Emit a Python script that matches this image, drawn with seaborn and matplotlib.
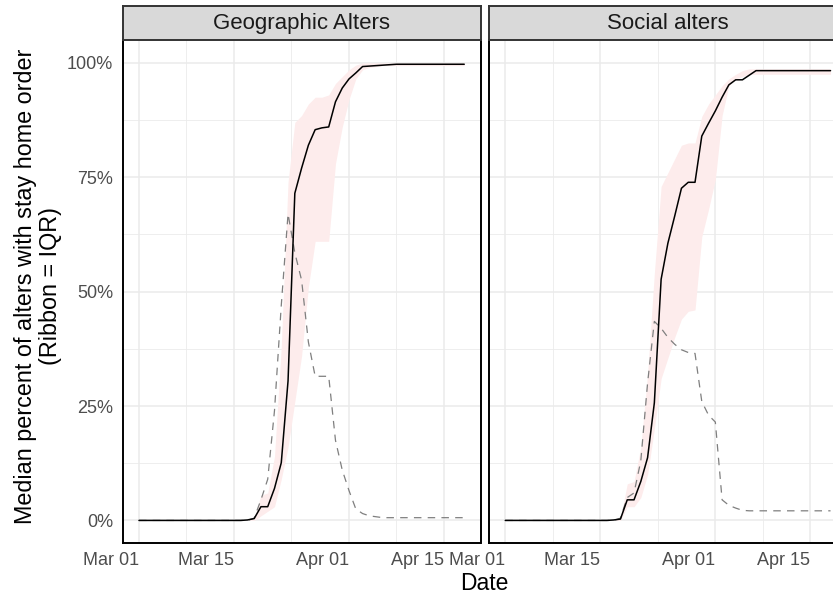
import numpy as np
import pandas as pd
import matplotlib
matplotlib.use("Agg")
import matplotlib.pyplot as plt
import matplotlib.dates as mdates
from matplotlib.ticker import PercentFormatter
import seaborn as sns

# one value per day, Mar 01 .. Apr 18 (2020), in percent
dates = pd.date_range("2020-03-01", "2020-04-18", freq="D")

geo_median = [0] * 16 + [0.1, 0.4, 3.0, 3.0, 7.0, 12.6, 30.5, 71.5, 77.0, 82.0, 85.4, 85.8,
                         86.0, 91.5, 94.5, 96.5, 97.8, 99.2, 99.3, 99.4, 99.5, 99.6] + [99.7] * 11
geo_lower = [0] * 18 + [1, 2, 3, 9, 16, 26, 36, 51, 61, 61, 61, 78, 86, 92, 96.5, 98.5,
                        99.0, 99.2] + [99.4] * 13
geo_upper = [0] * 17 + [0.5, 5.5, 6, 14, 38, 74, 87, 88.5, 91, 92.5, 92.5, 93, 95.5, 97,
                        98.5, 99.5] + [100] * 16
geo_iqr = [0] * 17 + [0.5, 4.5, 9, 24, 47, 67, 58.5, 52.5, 39, 31.5, 31.5, 31.5, 17.5, 11,
                      6.5, 2.5, 1.5, 1.0, 0.8] + [0.6] * 13

soc_median = [0] * 16 + [0.1, 0.3, 4.5, 4.5, 8.5, 13.7, 25.7, 52.7, 60.6, 66.5, 72.6, 73.9,
                         73.9, 84.0, 86.8, 89.5, 92.5, 95.2, 96.3, 96.3, 97.3] + [98.3] * 12
soc_lower = [0] * 18 + [3, 3, 5, 10, 20, 31, 35.5, 40, 44, 45.7, 46, 62, 68, 74.5, 88.5, 95,
                        96.5, 97] + [97.5] * 13
soc_upper = [0] * 17 + [0.5, 8, 8.5, 16, 32, 54, 73, 76, 79, 82, 82.5, 82.5, 88.3, 91, 93,
                        95, 96.5, 97.5, 98.3] + [98.7] * 13
soc_iqr = [0] * 17 + [0.5, 5, 6, 13, 30, 43.5, 42, 40, 38.5, 37.3, 36.7, 36.5, 26, 23, 21.5,
                      4.5, 3.3, 2.7, 2.2] + [2.1] * 13

panels = [
    ("Geographic Alters", geo_median, geo_lower, geo_upper, geo_iqr),
    ("Social alters", soc_median, soc_lower, soc_upper, soc_iqr),
]

sns.set_style("white")
plt.rcParams["font.family"] = ["Liberation Sans", "DejaVu Sans"]

W, H = 833, 596
fig = plt.figure(figsize=(W / 100, H / 100), dpi=100)

panel_w = 357.8
lefts = [122.7, 489.0]
top_px, bottom_px = 40.0, 543.3
strip_top = 5.7

x0 = dates[0] - pd.Timedelta(days=2.4)
x1 = dates[-1] + pd.Timedelta(days=2.4)

for i, (title, med, lo, hi, iqr) in enumerate(panels):
    df = pd.DataFrame({
        "date": dates,
        "median": np.array(med) / 100,
        "lower": np.array(lo) / 100,
        "upper": np.array(hi) / 100,
        "iqr": np.array(iqr) / 100,
    })
    ax = fig.add_axes([lefts[i] / W, 1 - bottom_px / H, panel_w / W, (bottom_px - top_px) / H])
    ax.fill_between(df["date"], df["lower"], df["upper"], color="#FDECEC", lw=0, zorder=2)
    sns.lineplot(data=df, x="date", y="iqr", ax=ax, color="#7F7F7F", lw=0.9,
                 linestyle=(0, (6, 5)), zorder=3)
    sns.lineplot(data=df, x="date", y="median", ax=ax, color="black", lw=1.1, zorder=4)

    ax.set_xlim(x0, x1)
    ax.set_ylim(-0.05, 1.05)
    ax.set_xlabel("")
    ax.set_ylabel("")

    ax.xaxis.set_major_locator(mdates.DayLocator(bymonthday=[1, 15]))
    ax.xaxis.set_major_formatter(mdates.DateFormatter("%b %d"))
    ax.set_xticks([pd.Timestamp("2020-03-08"), pd.Timestamp("2020-03-23 12:00"),
                   pd.Timestamp("2020-04-08")], minor=True)
    ax.set_yticks([0, 0.25, 0.5, 0.75, 1.0])
    ax.set_yticks([0.125, 0.375, 0.625, 0.875], minor=True)
    ax.yaxis.set_major_formatter(PercentFormatter(1.0, decimals=0))

    ax.set_axisbelow(True)
    ax.grid(which="major", color="#EBEBEB", lw=1.1)
    ax.grid(which="minor", color="#EBEBEB", lw=0.6)

    ax.tick_params(which="major", direction="out", length=3.5, width=0.8, color="#333333",
                   labelsize=13, labelcolor="#4D4D4D")
    ax.tick_params(axis="x", pad=2.5)
    ax.tick_params(axis="y", pad=3.5)
    ax.tick_params(which="minor", length=0)
    for lab in ax.get_xticklabels():
        lab.set_horizontalalignment("right")
    if i == 1:
        ax.tick_params(axis="y", length=0, labelleft=False)

    for side in ["left", "bottom", "right"]:
        ax.spines[side].set_color("black")
        ax.spines[side].set_linewidth(1.4)
    ax.spines["top"].set_visible(False)

    # facet strip
    sax = fig.add_axes([lefts[i] / W, 1 - top_px / H, panel_w / W, (top_px - strip_top) / H])
    sax.set_facecolor("#D9D9D9")
    sax.set_xticks([])
    sax.set_yticks([])
    for s in sax.spines.values():
        s.set_color("#333333")
        s.set_linewidth(1.4)
    sax.text(0.5, 0.47, title, transform=sax.transAxes, ha="center", va="center",
             fontsize=16, color="#1A1A1A")

fig.text(38 / W, 1 - 286 / H,
         "Median percent of alters with stay home order\n(Ribbon = IQR)",
         rotation=90, ha="center", va="center", multialignment="center",
         fontsize=16.8, linespacing=1.12, color="black")
fig.text(484.8 / W, 1 - 583 / H, "Date", ha="center", va="center", fontsize=16.5,
         color="black")

fig.savefig("out.png", dpi=100)
